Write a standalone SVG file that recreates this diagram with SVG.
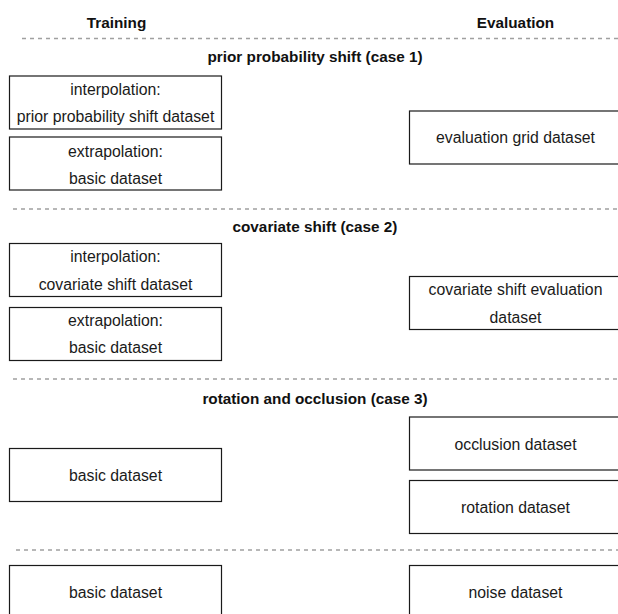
<svg xmlns="http://www.w3.org/2000/svg" width="618" height="614" viewBox="0 0 618 614">
  <style>
    .box { fill: #ffffff; stroke: #1a1a1a; stroke-width: 1.2; }
    .sep { stroke: #a0a0a0; stroke-width: 1.5; stroke-dasharray: 4 4; fill: none; }
    .lbl { font-family: "Liberation Sans", Arial, Helvetica, sans-serif; font-size: 15.8px; fill: #1a1a1a; text-anchor: middle; }
    .hdr { font-family: "Liberation Sans", Arial, Helvetica, sans-serif; font-size: 15.3px; font-weight: bold; fill: #111111; text-anchor: middle; }
  </style>
  <rect width="618" height="614" fill="#ffffff"/>

  <!-- column headers -->
  <g id="headers">
    <text class="hdr" x="116.5" y="27.5">Training</text>
    <text class="hdr" x="515.5" y="27.5">Evaluation</text>
  </g>

  <!-- dashed separators between cases -->
  <g id="separators">
    <line class="sep" x1="22" y1="38.5" x2="618" y2="38.5"/>
    <line class="sep" x1="13" y1="209" x2="618" y2="209"/>
    <line class="sep" x1="13" y1="379" x2="618" y2="379"/>
    <line class="sep" x1="16" y1="550" x2="618" y2="550"/>
  </g>

  <!-- case titles -->
  <g id="titles">
    <text class="hdr" x="315" y="62">prior probability shift (case 1)</text>
    <text class="hdr" x="315" y="232">covariate shift (case 2)</text>
    <text class="hdr" x="315" y="403.5">rotation and occlusion (case 3)</text>
  </g>

  <!-- case 1 -->
  <g id="c1-interp">
    <rect class="box" x="9.5" y="76" width="212" height="53"/>
    <text class="lbl" x="115.5" y="94.5">interpolation:</text>
    <text class="lbl" x="115.5" y="122">prior probability shift dataset</text>
  </g>
  <g id="c1-extrap">
    <rect class="box" x="9.5" y="137" width="212" height="53"/>
    <text class="lbl" x="115.5" y="156.5">extrapolation:</text>
    <text class="lbl" x="115.5" y="184">basic dataset</text>
  </g>
  <g id="c1-eval">
    <rect class="box" x="409.5" y="111" width="212" height="53"/>
    <text class="lbl" x="515.5" y="142.7">evaluation grid dataset</text>
  </g>

  <!-- case 2 -->
  <g id="c2-interp">
    <rect class="box" x="9.5" y="243.5" width="212" height="53"/>
    <text class="lbl" x="115.5" y="262">interpolation:</text>
    <text class="lbl" x="115.5" y="289.5">covariate shift dataset</text>
  </g>
  <g id="c2-extrap">
    <rect class="box" x="9.5" y="307.5" width="212" height="53"/>
    <text class="lbl" x="115.5" y="325.5">extrapolation:</text>
    <text class="lbl" x="115.5" y="353">basic dataset</text>
  </g>
  <g id="c2-eval">
    <rect class="box" x="409.5" y="276.5" width="212" height="53"/>
    <text class="lbl" x="515.5" y="295">covariate shift evaluation</text>
    <text class="lbl" x="515.5" y="323">dataset</text>
  </g>

  <!-- case 3 -->
  <g id="c3-train">
    <rect class="box" x="9.5" y="448.5" width="212" height="53"/>
    <text class="lbl" x="115.5" y="481">basic dataset</text>
  </g>
  <g id="c3-occlusion">
    <rect class="box" x="409.5" y="417" width="212" height="53"/>
    <text class="lbl" x="515.5" y="450">occlusion dataset</text>
  </g>
  <g id="c3-rotation">
    <rect class="box" x="409.5" y="480.5" width="212" height="53"/>
    <text class="lbl" x="515.5" y="513">rotation dataset</text>
  </g>

  <!-- noise case -->
  <g id="c4-train">
    <rect class="box" x="9.5" y="565.5" width="212" height="53"/>
    <text class="lbl" x="115.5" y="598">basic dataset</text>
  </g>
  <g id="c4-eval">
    <rect class="box" x="409.5" y="565.5" width="212" height="53"/>
    <text class="lbl" x="515.5" y="598">noise dataset</text>
  </g>
</svg>
